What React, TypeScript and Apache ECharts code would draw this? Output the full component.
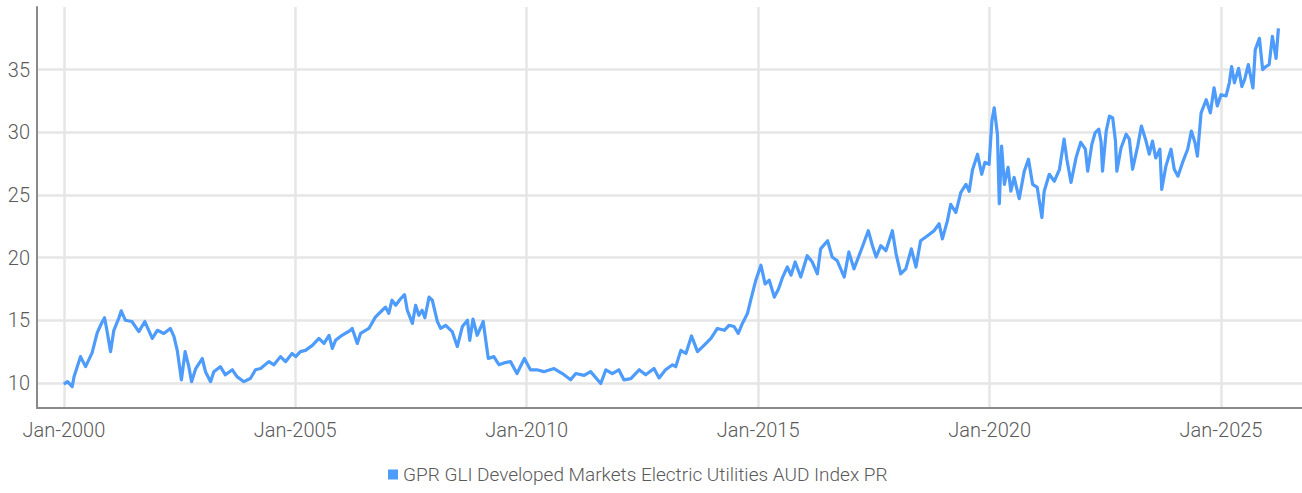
import React, { useEffect, useRef } from "react";
import * as echarts from "echarts";

// Decimal-year positions of the points
const yearPos = [
  2000.0, 2000.08, 2000.18, 2000.22, 2000.36, 2000.47, 2000.61, 2000.72, 2000.82, 2000.88, 2000.93,
  2001.01, 2001.08, 2001.19, 2001.24, 2001.33, 2001.47, 2001.62, 2001.75, 2001.91,
  2002.02, 2002.16, 2002.3, 2002.38, 2002.45, 2002.54, 2002.62, 2002.7, 2002.76, 2002.85, 2002.99,
  2003.06, 2003.17, 2003.24, 2003.38, 2003.49, 2003.64, 2003.74, 2003.89,
  2004.03, 2004.14, 2004.25, 2004.43, 2004.54, 2004.68, 2004.79, 2004.93,
  2005.01, 2005.11, 2005.22, 2005.37, 2005.51, 2005.62, 2005.73, 2005.8, 2005.87,
  2006.01, 2006.19, 2006.23, 2006.34, 2006.41, 2006.59, 2006.73, 2006.88, 2006.95,
  2007.02, 2007.09, 2007.17, 2007.27, 2007.36, 2007.42, 2007.53, 2007.6, 2007.67, 2007.74, 2007.8, 2007.89, 2007.96,
  2008.07, 2008.14, 2008.25, 2008.39, 2008.5, 2008.61, 2008.72, 2008.77, 2008.84, 2008.93,
  2009.06, 2009.11, 2009.17, 2009.29, 2009.4, 2009.51, 2009.65, 2009.79, 2009.95,
  2010.08, 2010.22, 2010.37, 2010.59, 2010.77, 2010.95,
  2011.06, 2011.24, 2011.38, 2011.6, 2011.71, 2011.85, 2011.99,
  2012.1, 2012.25, 2012.43, 2012.57, 2012.75, 2012.86,
  2013.0, 2013.15, 2013.22, 2013.33, 2013.44, 2013.56, 2013.69, 2013.83, 2013.98,
  2014.12, 2014.27, 2014.37, 2014.48, 2014.57, 2014.66, 2014.77, 2014.84, 2014.95,
  2015.06, 2015.15, 2015.24, 2015.35, 2015.44, 2015.53, 2015.63, 2015.71, 2015.8, 2015.92,
  2016.06, 2016.17, 2016.28, 2016.35, 2016.5, 2016.6, 2016.71, 2016.86, 2016.96,
  2017.07, 2017.22, 2017.38, 2017.47, 2017.55, 2017.65, 2017.76, 2017.9, 2017.98,
  2018.08, 2018.19, 2018.31, 2018.41, 2018.51, 2018.66, 2018.8, 2018.91, 2018.98,
  2019.09, 2019.16, 2019.27, 2019.38, 2019.49, 2019.56, 2019.63, 2019.74, 2019.83, 2019.9, 2019.99,
  2020.05, 2020.1, 2020.17, 2020.21, 2020.26, 2020.32, 2020.4, 2020.46, 2020.53, 2020.64, 2020.75, 2020.84, 2020.93,
  2021.03, 2021.13, 2021.18, 2021.29, 2021.4, 2021.51, 2021.61, 2021.67, 2021.76, 2021.87, 2021.97,
  2022.07, 2022.12, 2022.21, 2022.28, 2022.36, 2022.41, 2022.44, 2022.52, 2022.59, 2022.66, 2022.72, 2022.75, 2022.84, 2022.95,
  2023.02, 2023.09, 2023.2, 2023.28, 2023.38, 2023.45, 2023.52, 2023.59, 2023.68, 2023.72, 2023.81, 2023.92, 2023.99,
  2024.07, 2024.17, 2024.28, 2024.36, 2024.44, 2024.49, 2024.57, 2024.68, 2024.77, 2024.85, 2024.92,
  2025.0, 2025.11, 2025.18, 2025.23, 2025.29, 2025.38, 2025.45, 2025.51, 2025.59, 2025.69, 2025.74, 2025.83, 2025.9, 2025.97,
  2026.04, 2026.11, 2026.19, 2026.24,
];

// Index level at each position
const indexValues = [
  9.9, 10.1, 9.7, 10.5, 12.1, 11.3, 12.4, 14.0, 14.8, 15.2, 14.2,
  12.5, 14.2, 15.2, 15.75, 15.0, 14.9, 14.1, 14.9, 13.55,
  14.2, 13.95, 14.35, 13.7, 12.6, 10.25, 12.5, 11.3, 10.1, 11.15, 11.95,
  10.9, 10.1, 10.9, 11.3, 10.65, 11.05, 10.5, 10.1,
  10.35, 11.05, 11.15, 11.7, 11.45, 12.1, 11.7, 12.35,
  12.1, 12.5, 12.6, 13.0, 13.55, 13.15, 13.8, 12.75, 13.4,
  13.8, 14.2, 14.35, 13.15, 13.95, 14.35, 15.25, 15.8, 16.05,
  15.55, 16.6, 16.2, 16.7, 17.05, 15.8, 14.75, 16.2, 15.4, 15.8, 15.2, 16.85, 16.6,
  14.9, 14.35, 14.6, 14.1, 12.9, 14.5, 15.0, 13.4, 15.1, 13.8,
  14.9, 13.55, 11.95, 12.1, 11.45, 11.6, 11.7, 10.75, 11.95,
  11.05, 11.05, 10.9, 11.15, 10.75, 10.25,
  10.75, 10.6, 10.9, 9.95, 11.05, 10.75, 11.05,
  10.25, 10.35, 11.05, 10.65, 11.15, 10.4,
  11.05, 11.45, 11.3, 12.6, 12.35, 13.75, 12.5, 13.0, 13.55,
  14.35, 14.2, 14.6, 14.5, 13.95, 14.75, 15.55, 16.6, 18.2,
  19.4, 17.9, 18.2, 16.85, 17.5, 18.45, 19.25, 18.6, 19.65, 18.45,
  20.15, 19.65, 18.7, 20.7, 21.35, 20.05, 19.75, 18.45, 20.45,
  19.1, 20.55, 22.15, 20.95, 20.05, 20.95, 20.55, 22.15, 20.3,
  18.7, 19.1, 20.7, 19.25, 21.35, 21.75, 22.15, 22.7, 21.5,
  22.95, 24.25, 23.6, 25.2, 25.85, 25.3, 27.0, 28.25, 26.65, 27.6, 27.45,
  30.9, 31.95, 29.85, 24.3, 28.9, 25.85, 27.2, 25.3, 26.4, 24.7, 26.9, 27.85, 25.85,
  25.6, 23.2, 25.3, 26.65, 26.1, 27.05, 29.45, 27.85, 26.0, 28.0, 29.2,
  28.65, 26.9, 29.05, 29.95, 30.25, 29.2, 26.9, 30.1, 31.3, 31.15, 29.3, 26.9, 28.75, 29.85,
  29.45, 27.05, 28.9, 30.5, 29.3, 28.25, 29.3, 27.95, 28.65, 25.45, 27.3, 28.65, 27.05,
  26.5, 27.6, 28.65, 30.1, 29.15, 28.1, 31.55, 32.6, 31.55, 33.55, 32.1,
  33.0, 32.9, 33.95, 35.25, 33.95, 35.1, 33.65, 34.2, 35.4, 33.55, 36.6, 37.5, 35.0, 35.25,
  35.4, 37.65, 35.9, 38.3,
];

const xTickYears = [2000, 2005, 2010, 2015, 2020, 2025];
const yTickValues = [10, 15, 20, 25, 30, 35];
const seriesName = "GPR GLI Developed Markets Electric Utilities AUD Index PR";

export default function App() {
  const ref = useRef<HTMLDivElement>(null);

  useEffect(() => {
    document.body.style.margin = "0";
    const chart = echarts.init(ref.current!, null, { renderer: "svg" });
    const font = "Roboto, 'Noto Sans', sans-serif";
    chart.setOption({
      animation: false,
      grid: { left: 37, right: 0, top: 7, bottom: 85, containLabel: false },
      legend: {
        show: true,
        bottom: 4,
        left: 383,
        icon: "rect",
        itemWidth: 10,
        itemHeight: 10,
        itemGap: 10,
        textStyle: { fontFamily: font, fontSize: 19, color: "#5a5a5a", fontWeight: 300 },
        data: [seriesName],
      },
      xAxis: {
        type: "value",
        min: 1999.42,
        max: 2026.75,
        axisLine: { show: true, lineStyle: { color: "#8a8a8a", width: 2 } },
        axisTick: { show: false, customValues: xTickYears },
        axisLabel: {
          customValues: xTickYears,
          formatter: (v: number) => "Jan-" + Math.round(v),
          fontFamily: font,
          fontSize: 20,
          fontWeight: 300,
          color: "#5a5a5a",
          margin: 12,
        },
        splitLine: { show: true, lineStyle: { color: "#e6e6e6", width: 2.5 } },
      },
      yAxis: {
        type: "value",
        min: 8,
        max: 40,
        axisLine: { show: true, lineStyle: { color: "#8a8a8a", width: 2 } },
        axisTick: { show: false, customValues: yTickValues },
        axisLabel: {
          customValues: yTickValues,
          fontFamily: font,
          fontSize: 20,
          fontWeight: 300,
          color: "#5a5a5a",
          margin: 7,
        },
        splitLine: { show: true, lineStyle: { color: "#e6e6e6", width: 2.5 } },
      },
      series: [
        {
          name: seriesName,
          type: "line",
          data: yearPos.map((x, i) => [x, indexValues[i]]),
          showSymbol: false,
          symbol: "none",
          itemStyle: { color: "#4d9bfa" },
          lineStyle: { color: "#4d9bfa", width: 3.2, join: "round" },
        },
      ],
    });
    return () => chart.dispose();
  }, []);

  return <div ref={ref} style={{ width: 1302, height: 493 }} />;
}
